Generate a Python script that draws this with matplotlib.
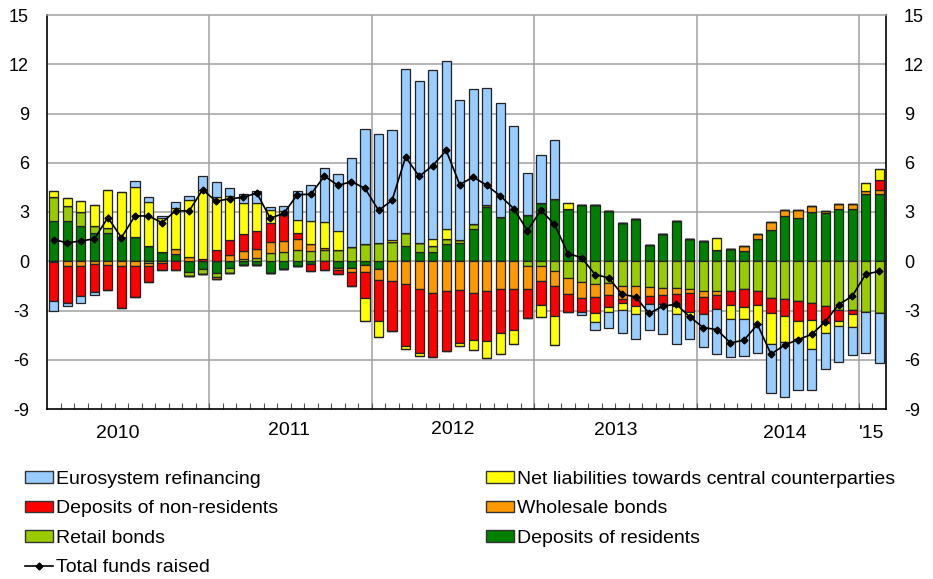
import numpy as np
import matplotlib
matplotlib.use("Agg")
import matplotlib.pyplot as plt
from matplotlib.patches import Patch
from matplotlib.lines import Line2D
import matplotlib.transforms as mtransforms

plt.rcParams['font.family'] = ['Liberation Sans', 'DejaVu Sans']

# Monthly data, Jan 2010 - Feb 2015 (percentage points)
year_labels = ['2010', '2011', '2012', '2013', '2014', "'15"]
months_per_year = [12, 12, 12, 12, 12, 2]

residents = [2.47, 2.43, 2.17, 1.70, 1.70, 1.46, 1.46, 0.93, 0.59, 0.45, -0.65, -0.45,
             -0.70, -0.40, -0.25, -0.20, -0.69, -0.47, -0.30, -0.16, 0.00, -0.39, -0.39, -0.24,
             -0.47, 0.00, 0.91, 0.57, 0.57, 1.08, 1.12, 1.99, 3.30, 2.70, 3.20, 2.84,
             3.55, 3.79, 3.16, 3.45, 3.41, 3.06, 2.33, 2.56, 1.01, 1.68, 2.45, 1.38,
             1.22, 0.67, 0.77, 0.61, 1.34, 1.93, 2.74, 2.64, 3.00, 2.94, 3.16, 3.18,
             4.08, 4.12]
retail = [1.46, 0.95, 0.81, 0.45, 0.32, 0.00, 0.00, -0.10, 0.00, 0.00, -0.22, -0.34,
          -0.24, -0.30, 0.15, 0.20, 0.49, 0.59, 0.71, 0.65, 0.67, 0.71, 0.85, 1.08,
          1.12, 1.20, 0.81, 0.55, 0.37, 0.30, 0.20, 0.30, 0.10, 0.00, 0.00, -0.30,
          -0.30, -0.59, -0.99, -1.26, -1.36, -1.32, -1.50, -1.50, -1.56, -1.60, -1.62, -1.70,
          -1.81, -1.83, -1.83, -1.66, -1.81, -2.21, -2.27, -2.43, -2.54, -2.74, -2.94, -2.98,
          -3.08, -3.14]
wholesale = [-0.05, -0.30, -0.28, -0.15, -0.20, -0.28, -0.26, -0.20, -0.10, 0.28, 0.28, 0.00,
             -0.15, 0.40, 0.45, 0.53, 0.69, 0.67, 0.65, 0.41, 0.14, -0.12, -0.26, -0.41,
             -0.69, -1.20, -1.36, -1.72, -1.91, -1.81, -1.76, -1.93, -1.81, -1.66, -1.72, -1.42,
             -0.91, -0.93, -1.03, -0.95, -0.81, -0.75, -0.77, -0.67, -0.55, -0.43, -0.39, -0.26,
             -0.37, -0.24, 0.00, 0.32, 0.34, 0.47, 0.37, 0.47, 0.37, 0.10, 0.30, 0.32,
             0.20, 0.20]
non_residents = [-2.39, -2.23, -1.85, -1.72, -1.54, -2.56, -1.93, -0.95, -0.45, -0.55, 0.00, 0.16,
                 0.69, 0.89, 1.08, 1.14, 1.14, 1.56, 0.34, -0.45, -0.51, -0.25, -0.87, -1.56,
                 -2.47, -3.04, -3.79, -3.89, -3.91, -3.67, -3.25, -2.84, -3.06, -2.74, -2.47, -1.76,
                 -1.48, -1.83, -1.08, -0.87, -0.97, -0.71, -0.26, -0.57, -0.47, -0.55, -0.69, -1.14,
                 -1.05, -0.85, -0.81, -1.12, -0.83, -0.97, -1.08, -1.20, -1.05, -1.05, -0.69, -0.26,
                 0.00, 0.65]
ccp = [0.32, 0.45, 0.71, 1.30, 2.33, 2.74, 3.08, 2.70, 2.03, 2.52, 3.45, 4.16,
       3.25, 2.70, 1.87, 1.68, 0.81, 0.26, 0.81, 1.38, 1.58, 1.16, 0.00, -1.42,
       -1.01, 0.12, -0.22, -0.14, 0.41, 0.61, -0.16, -0.61, -1.05, -1.28, -0.85, 0.00,
       -0.69, -1.76, 0.41, 0.00, -0.55, -0.30, -0.41, -0.45, 0.00, 0.00, -0.49, -0.22,
       0.00, 0.77, -0.89, -0.75, -1.20, -1.87, -1.56, -1.08, -1.78, -0.61, -0.30, -0.75,
       0.51, 0.67]
eurosystem = [-0.57, -0.22, -0.39, -0.20, 0.00, 0.00, 0.37, 0.30, 0.16, 0.34, 0.26, 0.85,
              0.87, 0.50, 0.55, 0.71, 0.16, 0.26, 1.79, 2.19, 3.29, 3.45, 5.44, 6.98,
              6.65, 6.65, 10.00, 9.86, 10.32, 10.20, 8.52, 8.21, 7.16, 6.94, 5.05, 2.54,
              2.94, 3.57, 0.00, -0.20, -0.51, -1.01, -1.42, -1.56, -1.62, -1.87, -1.83, -1.42,
              -1.99, -2.70, -2.29, -2.23, -1.72, -3.00, -3.35, -3.14, -2.47, -2.19, -2.19, -1.72,
              -2.49, -3.08]
total = [1.32, 1.12, 1.24, 1.36, 2.66, 1.44, 2.76, 2.76, 2.35, 3.08, 3.06, 4.36,
         3.65, 3.81, 3.89, 4.16, 2.62, 2.92, 4.06, 4.08, 5.19, 4.62, 4.85, 4.44,
         3.10, 3.71, 6.35, 5.17, 5.82, 6.75, 4.67, 5.13, 4.62, 3.98, 3.20, 1.87,
         3.10, 2.25, 0.47, 0.22, -0.81, -1.01, -2.01, -2.17, -3.18, -2.74, -2.62, -3.39,
         -4.04, -4.16, -4.97, -4.81, -3.85, -5.66, -5.11, -4.77, -4.46, -3.69, -2.64, -2.13,
         -0.79, -0.61]

series_names = ['Deposits of residents', 'Retail bonds', 'Wholesale bonds',
                'Deposits of non-residents', 'Net liabilities towards central counterparties',
                'Eurosystem refinancing']
series_values = [residents, retail, wholesale, non_residents, ccp, eurosystem]
series_colors = ['#008000', '#99CC00', '#FF9900', '#FF0000', '#FFFF00', '#99CCFF']
yticks = [15, 12, 9, 6, 3, 0, -3, -6, -9]

# small placement offsets of the year labels (style only)
year_dx = [-0.8, -0.15, 0.0, 0.0, 0.5, -0.05]
year_dy = [-0.061, -0.055, -0.052, -0.055, -0.061, -0.061]

fig = plt.figure(figsize=(9.33, 5.79), dpi=100)
ax = fig.add_axes([47/933, 1 - 409/579, (886-47)/933, 394/579])

n = len(total)
x = np.arange(n)
pos_bottom = np.zeros(n)
neg_bottom = np.zeros(n)
for name, vals, col in zip(series_names, series_values, series_colors):
    v = np.array(vals, dtype=float)
    pos = np.where(v > 0, v, 0)
    neg = np.where(v < 0, v, 0)
    ax.bar(x, pos, bottom=pos_bottom, width=0.68, color=col, edgecolor='#222222',
           linewidth=0.9, zorder=3)
    ax.bar(x, neg, bottom=neg_bottom, width=0.68, color=col, edgecolor='#222222',
           linewidth=0.9, zorder=3)
    pos_bottom += pos
    neg_bottom += neg

ax.plot(x, total, color='black', linewidth=1.2, marker='D', markersize=3.5, zorder=5)

ax.set_xlim(-0.5, n - 0.5)
ax.set_ylim(-9, 15)
ax.set_yticks(yticks)
ax.set_yticklabels([str(t) for t in yticks])
ax.tick_params(axis='y', length=0, labelsize=13, labelright=True, pad=13)

# year boundaries & month ticks
bounds = np.cumsum(months_per_year)[:-1] - 0.5
ax.set_xticks(bounds)
ax.set_xticklabels([])
ax.set_xticks(np.arange(n - 1) + 0.5, minor=True)
ax.tick_params(axis='x', which='both', direction='in', length=4, color='#555555', width=0.8)
for b in bounds:
    ax.axvline(b, color='#A0A0A0', linewidth=1.1, zorder=1)
for t in yticks[1:-1]:
    ax.axhline(t, color='#A0A0A0', linewidth=1.1, zorder=1)

for sp in ['left', 'bottom', 'right']:
    ax.spines[sp].set_color('black')
    ax.spines[sp].set_linewidth(1.2)
ax.spines['top'].set_color('#A0A0A0')
ax.spines['top'].set_linewidth(1.1)

# year labels
start = 0
trans = mtransforms.blended_transform_factory(ax.transData, ax.transAxes)
for lab, m, dx, dy in zip(year_labels, months_per_year, year_dx, year_dy):
    ax.text(start + m / 2 - 0.5 + dx, dy, lab, transform=trans, ha='center', va='center',
            fontsize=14)
    start += m

# legend
def patch(i):
    return Patch(facecolor=series_colors[i], edgecolor='#333333', linewidth=1.0)

left_handles = [patch(5), patch(3), patch(1),
                Line2D([], [], color='black', marker='D', markersize=3.5, linewidth=1.2)]
left_labels = ['Eurosystem refinancing', 'Deposits of non-residents', 'Retail bonds',
               'Total funds raised']
right_handles = [patch(4), patch(2), patch(0)]
right_labels = ['Net liabilities towards central counterparties', 'Wholesale bonds',
                'Deposits of residents']
common = dict(frameon=False, fontsize=14, handlelength=1.45, handleheight=0.55,
              handletextpad=0.15, labelspacing=0.64, borderpad=0, borderaxespad=0)
fig.legend(left_handles, left_labels, loc='upper left',
           bbox_to_anchor=(25/933, 1 - 471/579), **common)
fig.legend(right_handles, right_labels, loc='upper left',
           bbox_to_anchor=(486/933, 1 - 471/579), **common)

fig.savefig('out.png', dpi=100)
